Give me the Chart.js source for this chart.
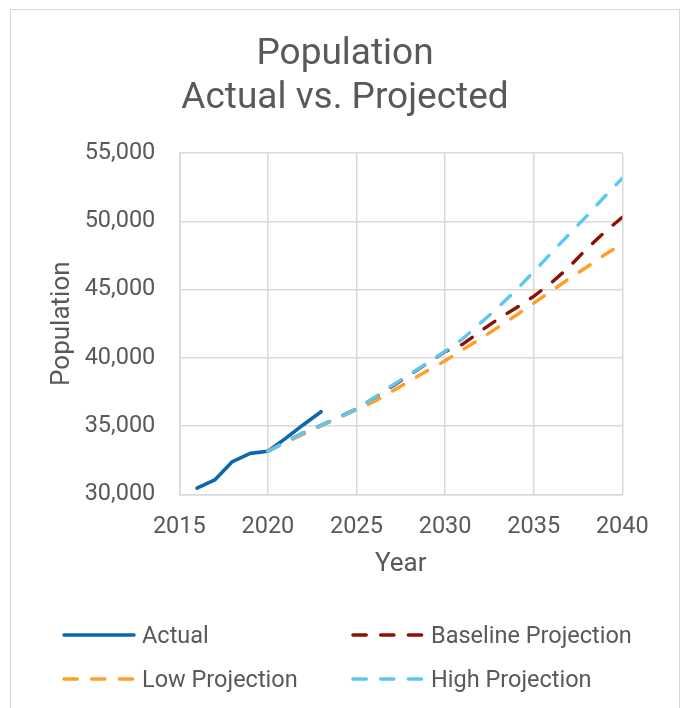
<!DOCTYPE html>
<html>
<head>
<meta charset="utf-8">
<script src="https://cdn.jsdelivr.net/npm/chart.js@4.4.1/dist/chart.umd.min.js"></script>
<style>
  html, body { margin: 0; padding: 0; background: #fff; }
  #wrap { position: relative; width: 681px; height: 708px; overflow: hidden; }
  #frame { position: absolute; left: 10px; top: 9px; width: 670px; height: 730px;
           box-sizing: border-box; border: 1.5px solid #d9d9d9; }
  #myChart { position: absolute; left: 0; top: 0; }
  .leg { position: absolute; height: 30px; display: flex; align-items: center;
         font-family: Roboto, sans-serif; font-size: 23.5px; color: #595959; white-space: nowrap; }
  .leg svg { margin-right: 5px; }
</style>
</head>
<body>
<div id="wrap">
  <div id="frame"></div>
  <canvas id="myChart" width="681" height="708"></canvas>
  <div id="legend"></div>
</div>
<script>
// chart data
var actualYears = [2016, 2017, 2018, 2019, 2020, 2021, 2022, 2023];
var actualValues = [30450, 31050, 32400, 33000, 33150, 34100, 35100, 36050];

var projYears = [2020, 2021, 2022, 2023, 2024, 2025, 2026, 2027, 2028, 2029, 2030,
                 2031, 2032, 2033, 2034, 2035, 2036, 2037, 2038, 2039, 2040];
var baselineValues = [33150, 33850, 34500, 35050, 35650, 36250, 37050, 37900, 38750, 39600, 40450,
                      41000, 41950, 42850, 43650, 44500, 45500, 46650, 48000, 49200, 50300];
var lowValues = [33150, 33800, 34400, 35000, 35600, 36200, 36800, 37550, 38300, 39050, 39780,
                 40600, 41400, 42250, 43100, 44000, 44900, 45800, 46650, 47550, 48350];
var highValues = [33150, 33850, 34500, 35050, 35650, 36250, 37080, 37950, 38780, 39620, 40470,
                  41400, 42550, 43700, 44950, 46300, 47700, 49050, 50400, 51800, 53150];

var xTicks = [2015, 2020, 2025, 2030, 2035, 2040];
var yTicks = [30000, 35000, 40000, 45000, 50000, 55000];

var textColour = "#595959";
var gridColour = "#d9d9d9";

function toPoints(xs, ys) {
    var pts = [];
    for (var i = 0; i < xs.length; i++) {
        pts.push({x: xs[i], y: ys[i]});
    }
    return pts;
}

var series = [
    {label: "Actual", colour: "#0f67ab", dashed: false, data: toPoints(actualYears, actualValues), order: 3},
    {label: "Baseline Projection", colour: "#8c1005", dashed: true, data: toPoints(projYears, baselineValues), order: 2},
    {label: "Low Projection", colour: "#fd9f28", dashed: true, data: toPoints(projYears, lowValues), order: 1},
    {label: "High Projection", colour: "#5bc8f3", dashed: true, data: toPoints(projYears, highValues), order: 0}
];

var datasets = [];
for (var s in series) {
    datasets.push({
        label: series[s].label,
        data: series[s].data,
        borderColor: series[s].colour,
        backgroundColor: series[s].colour,
        borderWidth: series[s].dashed ? 3.4 : 3.6,
        borderDash: series[s].dashed ? [13, 14.7] : [],
        borderCapStyle: "round",
        borderJoinStyle: "round",
        pointRadius: 0,
        tension: 0,
        fill: false,
        order: series[s].order
    });
}

var ctx = document.getElementById("myChart");
var myChart = new Chart(ctx, {
    type: "line",
    data: {datasets: datasets},
    options: {
        responsive: false,
        animation: false,
        devicePixelRatio: 1,
        layout: {padding: {left: 9, right: 0, top: 0, bottom: 127.7}},
        plugins: {
            legend: {display: false},
            tooltip: {enabled: false},
            title: {
                display: true,
                text: ["Population", "Actual vs. Projected"],
                color: textColour,
                font: {family: "Roboto", size: 37, weight: "normal", lineHeight: 1.21},
                padding: {top: 32, bottom: 31.5}
            }
        },
        scales: {
            x: {
                type: "linear",
                min: 2015,
                max: 2040,
                afterBuildTicks: function(scale) {
                    scale.ticks = xTicks.map(function(v) { return {value: v}; });
                },
                afterFit: function(scale) { scale.height = 86; },
                grid: {color: gridColour, lineWidth: 1.5, drawTicks: false},
                border: {color: gridColour, width: 1.5},
                ticks: {
                    color: textColour,
                    padding: 19,
                    maxRotation: 0,
                    font: {family: "Roboto", size: 23.5},
                    callback: function(v) { return String(v); }
                },
                title: {
                    display: true,
                    text: "Year",
                    color: textColour,
                    padding: 0,
                    font: {family: "Roboto", size: 26}
                }
            },
            y: {
                min: 30000,
                max: 55000,
                afterBuildTicks: function(scale) {
                    scale.ticks = yTicks.map(function(v) { return {value: v}; });
                },
                afterFit: function(scale) { scale.width = 170.3; },
                grid: {color: gridColour, lineWidth: 1.5, drawTicks: false},
                border: {color: gridColour, width: 1.5},
                ticks: {
                    color: textColour,
                    padding: 24,
                    font: {family: "Roboto", size: 23.5},
                    callback: function(v) { return v.toLocaleString("en-US"); }
                },
                title: {
                    display: true,
                    text: "Population",
                    color: textColour,
                    padding: {top: 37.4, bottom: 0},
                    font: {family: "Roboto", size: 26}
                }
            },
            // empty axis on the right, only keeps the plot clear of the frame edge
            yRight: {
                position: "right",
                display: true,
                afterFit: function(scale) { scale.width = 58.7; },
                grid: {display: false},
                border: {display: false},
                ticks: {display: false}
            }
        }
    }
});

// legend in two columns, like the original
var legendSpots = [[64, 635], [353, 635], [64, 679], [353, 679]];
var holder = document.getElementById("legend");
for (var i = 0; i < series.length; i++) {
    var item = series[i];
    var spot = legendSpots[i];
    var dash = item.dashed ? " stroke-dasharray='13.2 14.5'" : "";
    holder.innerHTML += "<div class='leg' style='left:" + (spot[0] - 2) + "px;top:" + (spot[1] - 15) + "px'>" +
        "<svg width='75' height='30'><line x1='2' y1='15' x2='72' y2='15' stroke='" + item.colour +
        "' stroke-width='3.5' stroke-linecap='round'" + dash + "/></svg>" +
        "<span>" + item.label + "</span></div>";
}
</script>
</body>
</html>
